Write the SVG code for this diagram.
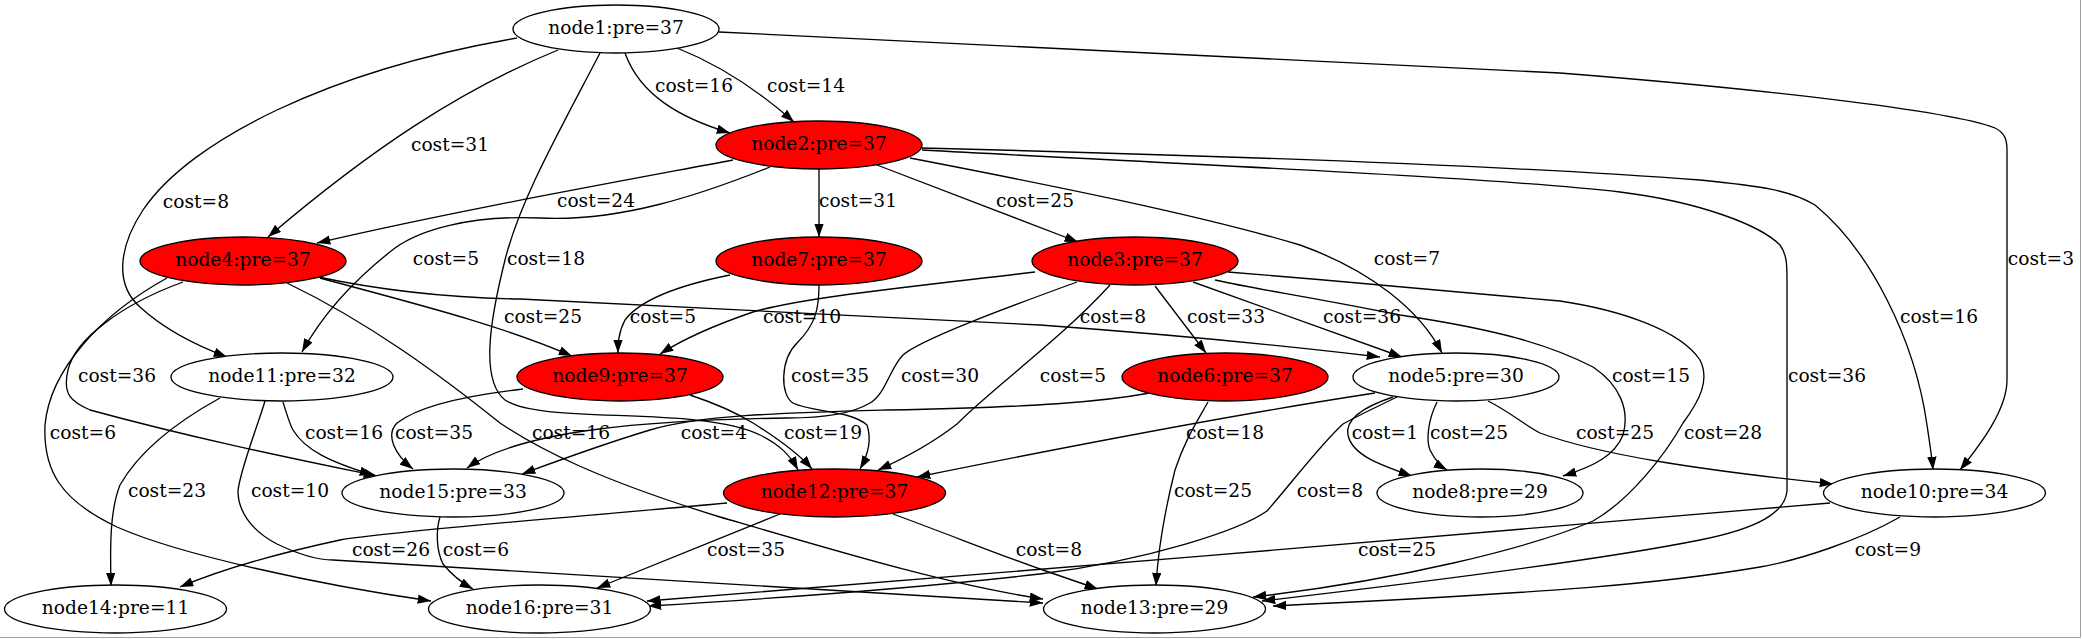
<svg xmlns="http://www.w3.org/2000/svg" width="2082" height="639" viewBox="0 0 2082 639">
<style>
.n ellipse{stroke:#000;stroke-width:1.33;fill:#fff}
.r ellipse{fill:#ff0000}
text{font-family:"DejaVu Serif","Liberation Serif",serif;font-size:18.67px;fill:#000}
.n text{text-anchor:middle}
#edges path{fill:none;stroke:#000;stroke-width:1.33;marker-end:url(#ah)}
#labels text{text-anchor:middle}
</style>
<defs>
<marker id="ah" markerUnits="userSpaceOnUse" markerWidth="14" markerHeight="10" refX="13.3" refY="4.7" orient="auto" viewBox="0 0 14 10">
<path d="M0,0 L13.3,4.7 L0,9.4 Z" fill="#000"/>
</marker>
</defs>
<rect width="2082" height="639" fill="#fff"/>
<path d="M2080.5,0 V637.5 H0" fill="none" stroke="#a0a0a0" stroke-width="1"/>
<g id="edges">
<path d="M625,53 C640,95 680,118 730,133"/>
<path d="M677,48 C720,65 760,92 794,122"/>
<path d="M558,50 C460,90 370,150 268,237"/>
<path d="M517,38 C330,70 190,140 143,210 C118,248 115,285 140,307 C165,330 195,345 227,357"/>
<path d="M600,53 C560,130 520,200 505,260 C490,320 480,380 505,400 C540,425 700,405 760,435 C780,445 790,455 798,470"/>
<path d="M719,32 L1560,73 C1750,88 1950,110 1995,128 C2005,133 2007,140 2007,150 L2007,380 C2007,410 1980,445 1960,470"/>
<path d="M733,160 C600,185 450,212 317,243"/>
<path d="M770,167 C700,195 620,222 540,218 C470,215 420,230 395,248 C360,275 325,310 302,352"/>
<path d="M819,169 L819,237"/>
<path d="M877,165 L1078,242"/>
<path d="M910,158 C1050,185 1200,215 1300,245 C1370,270 1420,310 1442,353"/>
<path d="M922,150 C1200,165 1500,178 1620,192 C1700,202 1760,225 1780,245 C1787,255 1787,265 1787,280 L1787,491 C1785,512 1760,528 1700,540 C1600,560 1400,585 1262,601"/>
<path d="M922,148 C1200,155 1500,165 1700,180 C1760,186 1790,190 1815,205 C1870,250 1915,340 1927,425 C1930,445 1932,458 1933,470"/>
<path d="M320,278 C420,305 500,325 572,356"/>
<path d="M318,277 C380,290 450,298 520,299 L1040,325 C1150,333 1280,345 1380,357"/>
<path d="M183,282 C120,305 75,340 68,370 C62,395 72,402 90,410 C200,440 300,460 377,476"/>
<path d="M167,278 C100,315 50,370 45,425 C43,470 60,500 117,527 C180,555 320,585 431,601"/>
<path d="M287,283 C370,323 440,375 500,423 C540,450 600,480 720,517 C850,555 950,585 1043,599"/>
<path d="M1035,272 C900,288 800,298 753,312 C715,325 685,338 660,354"/>
<path d="M730,275 C680,285 640,300 625,320 C618,333 618,345 618,353"/>
<path d="M819,285 C819,310 815,325 797,343 C780,360 780,395 793,403 C810,412 850,410 867,425 C872,440 868,455 860,469"/>
<path d="M1077,282 C1000,310 920,340 903,355 C890,368 885,395 870,403 C850,415 820,418 787,418 C650,420 520,430 467,468"/>
<path d="M1110,285 C1060,340 990,390 957,424 C930,445 905,458 878,470"/>
<path d="M1155,286 L1206,353"/>
<path d="M1193,282 L1402,357"/>
<path d="M1228,272 C1350,282 1500,295 1560,301 C1620,310 1680,330 1700,360 C1710,380 1700,400 1683,423 C1665,455 1630,500 1593,521 C1530,548 1400,580 1253,597"/>
<path d="M1215,280 C1260,290 1300,295 1400,315 C1500,330 1550,345 1593,367 C1620,385 1630,410 1623,435 C1615,455 1595,466 1563,476"/>
<path d="M283,402 C287,415 290,425 293,430 C305,450 330,462 373,475"/>
<path d="M220,398 C180,420 140,450 120,485 C110,510 110,545 111,586"/>
<path d="M265,401 C258,425 240,470 238,491 C238,510 250,530 277,544 C300,555 320,560 333,560 C400,562 700,580 1043,603"/>
<path d="M523,389 C470,395 420,405 397,423 C385,435 395,455 413,469"/>
<path d="M690,395 C720,405 740,415 753,423 C780,440 800,455 812,469"/>
<path d="M1150,393 C1100,402 1040,407 887,410 C780,413 700,415 650,430 C600,445 560,460 522,474"/>
<path d="M1208,402 C1195,425 1185,440 1175,470 C1165,510 1158,550 1156,586"/>
<path d="M1375,393 C1250,412 1100,440 917,477"/>
<path d="M1393,397 C1360,408 1345,420 1348,435 C1352,455 1380,465 1412,476"/>
<path d="M1437,402 C1428,420 1426,440 1430,450 C1435,460 1440,466 1447,470"/>
<path d="M1488,401 C1510,412 1523,424 1540,433 C1600,455 1700,470 1833,484"/>
<path d="M1397,397 C1370,410 1350,420 1343,424 C1320,445 1290,485 1267,511 C1240,530 1150,560 1040,574 C900,590 750,600 648,606"/>
<path d="M727,503 C600,515 400,530 340,540 C280,553 220,570 180,587"/>
<path d="M440,517 C436,530 436,550 443,564 C452,575 462,583 473,589"/>
<path d="M780,514 L597,588"/>
<path d="M893,514 C950,535 1000,555 1040,569 L1098,589"/>
<path d="M1830,503 C1500,530 1000,575 647,601"/>
<path d="M1900,517 C1860,540 1800,560 1760,567 C1660,584 1560,592 1273,606"/>
</g>
<g id="labels">
<text x="694" y="92">cost=16</text>
<text x="806" y="92">cost=14</text>
<text x="450" y="151">cost=31</text>
<text x="196" y="208">cost=8</text>
<text x="596" y="207">cost=24</text>
<text x="858" y="207">cost=31</text>
<text x="1035" y="207">cost=25</text>
<text x="446" y="265">cost=5</text>
<text x="546" y="265">cost=18</text>
<text x="1407" y="265">cost=7</text>
<text x="2041" y="265">cost=3</text>
<text x="543" y="323">cost=25</text>
<text x="663" y="323">cost=5</text>
<text x="802" y="323">cost=10</text>
<text x="1113" y="323">cost=8</text>
<text x="1226" y="323">cost=33</text>
<text x="1362" y="323">cost=36</text>
<text x="1939" y="323">cost=16</text>
<text x="117" y="382">cost=36</text>
<text x="830" y="382">cost=35</text>
<text x="940" y="382">cost=30</text>
<text x="1073" y="382">cost=5</text>
<text x="1651" y="382">cost=15</text>
<text x="1827" y="382">cost=36</text>
<text x="83" y="439">cost=6</text>
<text x="344" y="439">cost=16</text>
<text x="434" y="439">cost=35</text>
<text x="571" y="439">cost=16</text>
<text x="714" y="439">cost=4</text>
<text x="823" y="439">cost=19</text>
<text x="1225" y="439">cost=18</text>
<text x="1385" y="439">cost=1</text>
<text x="1469" y="439">cost=25</text>
<text x="1615" y="439">cost=25</text>
<text x="1723" y="439">cost=28</text>
<text x="167" y="497">cost=23</text>
<text x="290" y="497">cost=10</text>
<text x="1213" y="497">cost=25</text>
<text x="1330" y="497">cost=8</text>
<text x="391" y="556">cost=26</text>
<text x="476" y="556">cost=6</text>
<text x="746" y="556">cost=35</text>
<text x="1049" y="556">cost=8</text>
<text x="1397" y="556">cost=25</text>
<text x="1888" y="556">cost=9</text>
</g>
<g id="node1" class="n"><ellipse cx="616" cy="29" rx="103" ry="24"/><text x="616" y="34.3">node1:pre=37</text></g>
<g id="node2" class="n r"><ellipse cx="819" cy="145" rx="103" ry="24"/><text x="819" y="150.3">node2:pre=37</text></g>
<g id="node4" class="n r"><ellipse cx="243" cy="261" rx="103" ry="24"/><text x="243" y="266.3">node4:pre=37</text></g>
<g id="node7" class="n r"><ellipse cx="819" cy="261" rx="103" ry="24"/><text x="819" y="266.3">node7:pre=37</text></g>
<g id="node3" class="n r"><ellipse cx="1135" cy="261" rx="103" ry="24"/><text x="1135" y="266.3">node3:pre=37</text></g>
<g id="node11" class="n"><ellipse cx="282" cy="377" rx="111" ry="24"/><text x="282" y="382.3">node11:pre=32</text></g>
<g id="node9" class="n r"><ellipse cx="620" cy="377" rx="103" ry="24"/><text x="620" y="382.3">node9:pre=37</text></g>
<g id="node6" class="n r"><ellipse cx="1225" cy="377" rx="103" ry="24"/><text x="1225" y="382.3">node6:pre=37</text></g>
<g id="node5" class="n"><ellipse cx="1456" cy="377" rx="103" ry="24"/><text x="1456" y="382.3">node5:pre=30</text></g>
<g id="node15" class="n"><ellipse cx="453" cy="493" rx="111" ry="24"/><text x="453" y="498.3">node15:pre=33</text></g>
<g id="node12" class="n r"><ellipse cx="834.5" cy="493" rx="111" ry="24"/><text x="834.5" y="498.3">node12:pre=37</text></g>
<g id="node8" class="n"><ellipse cx="1480" cy="493" rx="103" ry="24"/><text x="1480" y="498.3">node8:pre=29</text></g>
<g id="node10" class="n"><ellipse cx="1934.5" cy="493" rx="111" ry="24"/><text x="1934.5" y="498.3">node10:pre=34</text></g>
<g id="node14" class="n"><ellipse cx="115.5" cy="609" rx="111" ry="24"/><text x="115.5" y="614.3">node14:pre=11</text></g>
<g id="node16" class="n"><ellipse cx="539.5" cy="609" rx="111" ry="24"/><text x="539.5" y="614.3">node16:pre=31</text></g>
<g id="node13" class="n"><ellipse cx="1154.5" cy="609" rx="111" ry="24"/><text x="1154.5" y="614.3">node13:pre=29</text></g>
</svg>
